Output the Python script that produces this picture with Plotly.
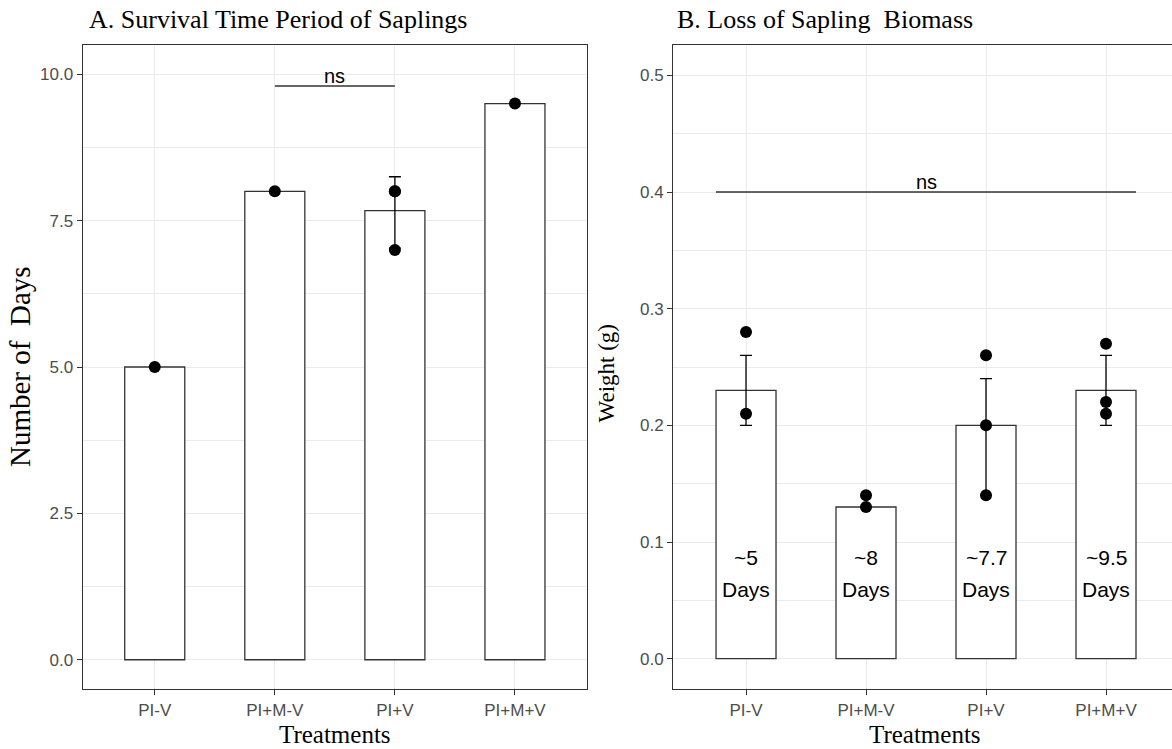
import plotly.graph_objects as go

# ---------------- data ----------------
treatments = ["PI-V", "PI+M-V", "PI+V", "PI+M+V"]

days_mean = [5.0, 8.0, 7.67, 9.5]
days_points = {
    "PI-V": [5.0],
    "PI+M-V": [8.0],
    "PI+V": [8.0, 8.0, 7.0],
    "PI+M+V": [9.5],
}
days_err_cats = ["PI+V"]
days_err_up = [0.58]
days_err_down = [0.64]

weight_mean = [0.23, 0.13, 0.20, 0.23]
weight_points = {
    "PI-V": [0.28, 0.21],
    "PI+M-V": [0.14, 0.13],
    "PI+V": [0.26, 0.20, 0.14],
    "PI+M+V": [0.27, 0.22, 0.21],
}
weight_err_cats = ["PI-V", "PI+V", "PI+M+V"]
weight_err_up = [0.03, 0.04, 0.03]
weight_err_down = [0.03, 0.06, 0.03]

ns_pair_A = ("PI+M-V", "PI+V")
ns_level_A = 9.8
ns_pair_B = ("PI-V", "PI+M+V")
ns_level_B = 0.40

# ---------------- style ----------------
W, H = 1172, 749
ML, MR, MT, MB = 0, 0, 45, 60
PH = H - MT - MB
BAR_W = 0.5
SERIF = "Liberation Serif, Times New Roman, serif"
SANS = "Liberation Sans, Arial, sans-serif"
DARK = "#333333"
GRID = "#EBEBEB"
TICKC = "#4D4D4D"

domA = [82.7 / W, 587.0 / W]
domB = [673.3 / W, 1.0]

fig = go.Figure()


def add_panel(xa, ya, means, points, err_cats, err_up, err_down):
    fig.add_trace(go.Bar(
        x=treatments, y=means, width=BAR_W, xaxis=xa, yaxis=ya,
        marker=dict(color="white", line=dict(color=DARK, width=1.3)),
        showlegend=False, hoverinfo="skip"))
    fig.add_trace(go.Scatter(
        x=err_cats, y=[means[treatments.index(c)] for c in err_cats],
        xaxis=xa, yaxis=ya, mode="markers",
        marker=dict(size=1, opacity=0),
        error_y=dict(type="data", symmetric=False, array=err_up,
                     arrayminus=err_down, color="black", thickness=1.3, width=6),
        showlegend=False, hoverinfo="skip"))
    px, py = [], []
    for c in treatments:
        for v in points[c]:
            px.append(c)
            py.append(v)
    fig.add_trace(go.Scatter(
        x=px, y=py, xaxis=xa, yaxis=ya, mode="markers",
        marker=dict(size=12, color="black"),
        showlegend=False, hoverinfo="skip"))


add_panel("x", "y", days_mean, days_points, days_err_cats, days_err_up, days_err_down)
add_panel("x2", "y2", weight_mean, weight_points, weight_err_cats, weight_err_up, weight_err_down)

# significance lines
iA0, iA1 = treatments.index(ns_pair_A[0]), treatments.index(ns_pair_A[1])
fig.add_shape(type="line", xref="x", yref="y", x0=iA0, x1=iA1,
              y0=ns_level_A, y1=ns_level_A, line=dict(color=DARK, width=1.3))
fig.add_annotation(xref="x", yref="y", x=(iA0 + iA1) / 2, y=ns_level_A,
                   text="ns", showarrow=False, yanchor="bottom", yshift=-3,
                   font=dict(family=SANS, size=20, color="black"))

iB0, iB1 = treatments.index(ns_pair_B[0]), treatments.index(ns_pair_B[1])
fig.add_shape(type="line", xref="x2", yref="y2", x0=iB0 - BAR_W / 2, x1=iB1 + BAR_W / 2,
              y0=ns_level_B, y1=ns_level_B, line=dict(color=DARK, width=1.3))
fig.add_annotation(xref="x2", yref="y2", x=(iB0 + iB1) / 2, y=ns_level_B,
                   text="ns", showarrow=False, yanchor="bottom", yshift=-3,
                   font=dict(family=SANS, size=20, color="black"))

# day labels inside panel B bars
for i, c in enumerate(treatments):
    lab = "~" + format(round(days_mean[i], 1), "g")
    fig.add_annotation(xref="x2", yref="y2", x=c, y=0.087, text=lab,
                       showarrow=False, font=dict(family=SANS, size=21, color="black"))
    fig.add_annotation(xref="x2", yref="y2", x=c, y=0.0596, text="Days",
                       showarrow=False, font=dict(family=SANS, size=21, color="black"))

# titles
fig.add_annotation(xref="paper", yref="paper", x=domA[0] + 4 / W, y=1 + 25 / PH,
                   xanchor="left", yanchor="middle", showarrow=False,
                   text="A. Survival Time Period of Saplings",
                   font=dict(family=SERIF, size=26, color="black"))
fig.add_annotation(xref="paper", yref="paper", x=domB[0] + 2 / W, y=1 + 25 / PH,
                   xanchor="left", yanchor="middle", showarrow=False,
                   text="B. Loss of Sapling  Biomass",
                   font=dict(family=SERIF, size=26, color="black"))

# axis titles
for dom in (domA, [domB[0], domB[0] + (domA[1] - domA[0])]):
    fig.add_annotation(xref="paper", yref="paper", x=(dom[0] + dom[1]) / 2,
                       y=-45 / PH, xanchor="center", yanchor="middle",
                       showarrow=False, text="Treatments",
                       font=dict(family=SERIF, size=25, color="black"))
fig.add_annotation(xref="paper", yref="paper", x=20 / W, y=0.5, textangle=-90,
                   xanchor="center", yanchor="middle", showarrow=False,
                   text="Number of  Days", font=dict(family=SERIF, size=29, color="black"))
fig.add_annotation(xref="paper", yref="paper", x=606 / W, y=0.49, textangle=-90,
                   xanchor="center", yanchor="middle", showarrow=False,
                   text="Weight (g)", font=dict(family=SERIF, size=23, color="black"))

xcommon = dict(type="category", showgrid=True, gridcolor=GRID, gridwidth=1.2,
               showline=True, linecolor=DARK, linewidth=1.3, mirror=True,
               ticks="outside", ticklen=5, tickwidth=1.2, tickcolor=DARK,
               tickfont=dict(family=SANS, size=17, color=TICKC), zeroline=False)
ycommon = dict(showgrid=True, gridcolor=GRID, gridwidth=1.2,
               showline=True, linecolor=DARK, linewidth=1.3,
               ticks="outside", ticklen=5, tickwidth=1.2, tickcolor=DARK,
               tickfont=dict(family=SANS, size=17, color=TICKC), zeroline=False,
               tickformat=".1f")

fig.update_layout(
    width=W, height=H, margin=dict(l=ML, r=MR, t=MT, b=MB),
    paper_bgcolor="white", plot_bgcolor="white", showlegend=False,
    xaxis=dict(domain=domA, range=[-0.6, 3.6], anchor="y", **xcommon),
    xaxis2=dict(domain=domB, range=[-0.606, 3.55], anchor="y2", **xcommon),
    yaxis=dict(domain=[0, 1], range=[-0.5, 10.5], anchor="x", dtick=2.5, tick0=0,
               mirror=True,
               minor=dict(dtick=1.25, tick0=0, showgrid=True, gridcolor=GRID, gridwidth=0.6),
               **ycommon),
    yaxis2=dict(domain=[0, 1], range=[-0.026, 0.526], anchor="x2", dtick=0.1, tick0=0,
                mirror=False,
                minor=dict(dtick=0.05, tick0=0, showgrid=True, gridcolor=GRID, gridwidth=0.6),
                **ycommon),
)

fig.write_html("out.html")
